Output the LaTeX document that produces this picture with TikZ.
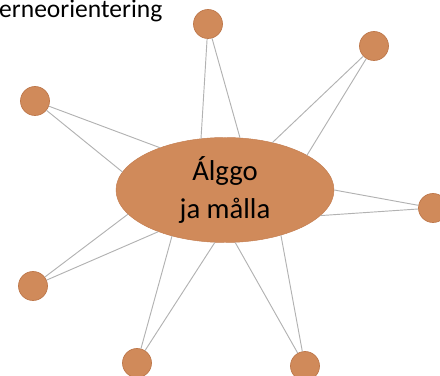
\documentclass[tikz,border=0pt]{standalone}
\usepackage{fontspec}
\setmainfont{Carlito}
\usetikzlibrary{shapes.geometric}
\definecolor{brun}{RGB}{208,138,90}
\definecolor{brunfonce}{RGB}{190,120,75}

\begin{document}
\begin{tikzpicture}[x=0.03cm, y=-0.03cm]
\tikzset{pnoeud/.style={circle, fill=brun, draw=brunfonce, line width=0.6pt, minimum size=0.87cm, inner sep=0pt}}
\tikzset{gnoeud/.style={ellipse, fill=brun, draw=brunfonce!70!brun, line width=0.4pt, minimum width=6.54cm, minimum height=3.15cm, inner sep=0pt, align=center, font=\fontsize{24.5}{32}\selectfont}}
\tikzset{trait/.style={draw=gray!60, line width=0.8pt}}
\useasboundingbox (0,0) rectangle (440,376);
\node[anchor=base west, inner sep=0pt, font=\fontsize{21.8}{25}\selectfont] (titre) at (-1,18) {erneorientering};
\node[gnoeud] (C) at (225,190) {Álggo\\ja målla};
\node[pnoeud] (V1) at (208,24) {};
\node[pnoeud] (V2) at (374,46) {};
\node[pnoeud] (V3) at (433,208) {};
\node[pnoeud] (V4) at (305,366) {};
\node[pnoeud] (V5) at (137,363) {};
\node[pnoeud] (V6) at (33,286) {};
\node[pnoeud] (V7) at (35,101) {};
\draw[trait] (V1) -- (C.115);
\draw[trait] (V1) -- (C.74);
\draw[trait] (V2) -- (C.45);
\draw[trait] (V2) -- (C.23);
\draw[trait] (V3) -- (C.0);
\draw[trait] (V3) -- (C.-15);
\draw[trait] (V4) -- (C.-79);
\draw[trait] (V4) -- (C.-39);
\draw[trait] (V5) -- (C.221);
\draw[trait] (V5) -- (C.259);
\draw[trait] (V6) -- (C.194);
\draw[trait] (V6) -- (C.212);
\draw[trait] (V7) -- (C.147);
\draw[trait] (V7) -- (C.170);
\end{tikzpicture}
\end{document}
